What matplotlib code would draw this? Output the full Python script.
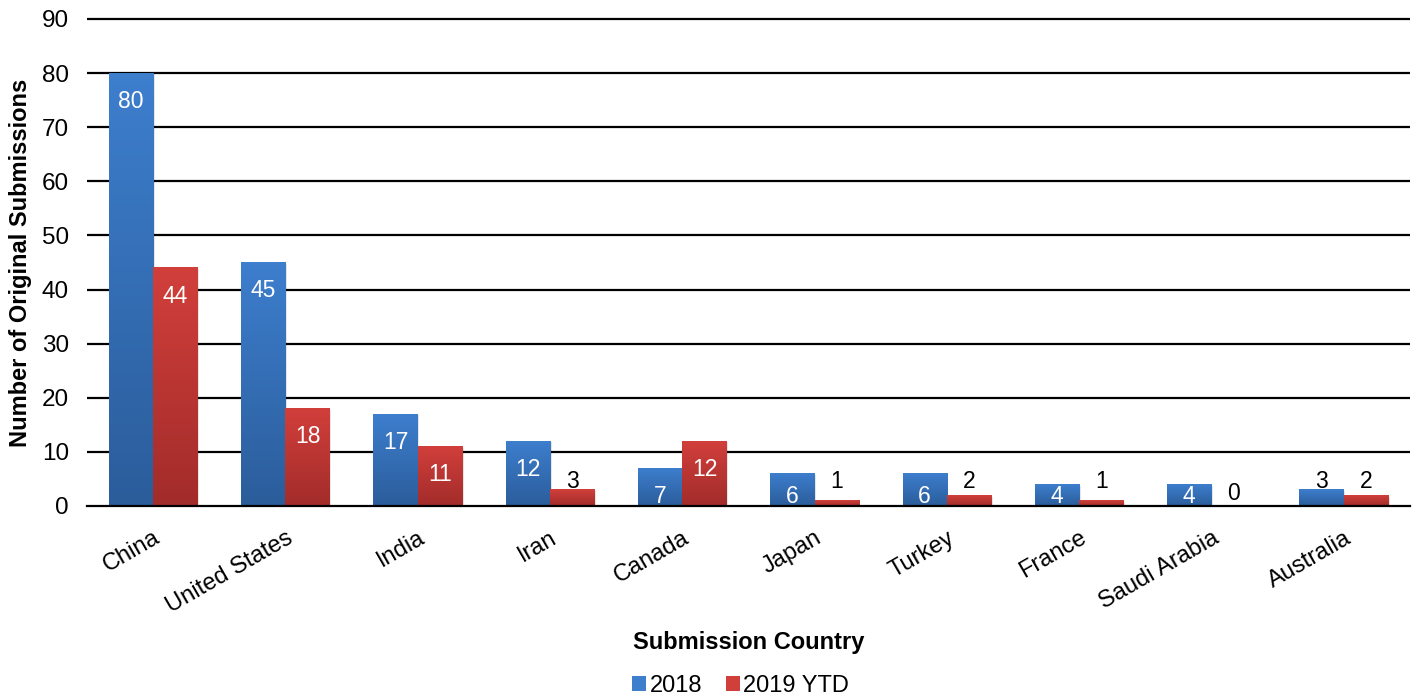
import matplotlib
matplotlib.use("Agg")
import matplotlib.pyplot as plt
import numpy as np
from matplotlib.colors import LinearSegmentedColormap
from matplotlib.patches import Patch

# datos
paises = ["China", "United States", "India", "Iran", "Canada", "Japan",
          "Turkey", "France", "Saudi Arabia", "Australia"]
envios_2018 = [80, 45, 17, 12, 7, 6, 6, 4, 4, 3]
envios_2019 = [44, 18, 11, 3, 12, 1, 2, 1, 0, 2]
series = ["2018", "2019 YTD"]

plt.rcParams['font.family'] = ['Liberation Sans', 'DejaVu Sans']

# colores (abajo, arriba) para el degradado
azul = ("#2b5d9b", "#3d7ecd")
rojo = ("#a22c2a", "#d13f3b")

fig = plt.figure(figsize=(14.16, 6.98), dpi=100)
ax = fig.add_axes([0.0614, 0.2751, 0.9343, 0.6977])

x = np.arange(len(paises))
ancho = 0.335


def barras_degradado(pos, valores, colores):
    cmap = LinearSegmentedColormap.from_list("g", list(colores))
    grad = np.linspace(1, 0, 64).reshape(-1, 1)
    rects = ax.bar(pos, valores, ancho, color=colores[1], zorder=3)
    for r in rects:
        x0, y0 = r.get_x(), r.get_y()
        w, h = r.get_width(), r.get_height()
        if h <= 0:
            continue
        # sombra suave
        ax.bar(x0 + w / 2 + 0.012, h, w, bottom=-0.25, color="#000000",
               alpha=0.10, zorder=2, linewidth=0)
        ax.imshow(grad, cmap=cmap, aspect="auto", extent=[x0, x0 + w, y0, y0 + h],
                  zorder=4, interpolation="bilinear")
    return rects


r1 = barras_degradado(x - ancho / 2, envios_2018, azul)
r2 = barras_degradado(x + ancho / 2, envios_2019, rojo)


def etiquetas(pos, valores):
    for p, v in zip(pos, valores):
        if v >= 4:
            # dentro del extremo, en blanco
            ax.text(p, max(v - 5.2, 1.8), str(v), ha="center", va="center",
                    color="white", fontsize=16.5, zorder=6)
        elif v > 0:
            ax.text(p, max(v + 1.6, 4.6), str(v), ha="center", va="center",
                    color="black", fontsize=16.5, zorder=6)
        else:
            ax.text(p, v + 2.3, str(v), ha="center", va="center",
                    color="black", fontsize=16.5, zorder=6)


etiquetas(x - ancho / 2, envios_2018)
etiquetas(x + ancho / 2, envios_2019)

ax.set_xlim(-0.5, len(paises) - 0.5)
ax.set_ylim(0, 90)
ax.set_yticks(range(0, 91, 10))
ax.hlines(range(10, 91, 10), -0.5, len(paises) - 0.5, color="black",
          linewidth=1.6, zorder=0, clip_on=False)

for lado in ["top", "right", "left"]:
    ax.spines[lado].set_visible(False)
ax.spines["bottom"].set_linewidth(1.6)
ax.spines["bottom"].set_zorder(5)

ax.set_xticks(x)
ax.set_xticklabels(paises, rotation=30, ha="right", rotation_mode="anchor", fontsize=17)
ax.tick_params(axis="x", length=0, pad=15)
ax.tick_params(axis="y", length=0, pad=13, labelsize=17.5)

ax.set_xlabel("Submission Country", fontsize=17, fontweight="bold", labelpad=10)
ax.set_ylabel("Number of Original Submissions", fontsize=17, fontweight="bold", labelpad=7)

handles = [Patch(facecolor=azul[1]), Patch(facecolor=rojo[1])]
fig.legend(handles, series, loc="center", bbox_to_anchor=(0.523, 0.017), ncol=2,
           frameon=False, fontsize=17, handlelength=0.6, handleheight=0.6,
           handletextpad=0.15, columnspacing=1.0)

plt.savefig("out.png", dpi=100)
